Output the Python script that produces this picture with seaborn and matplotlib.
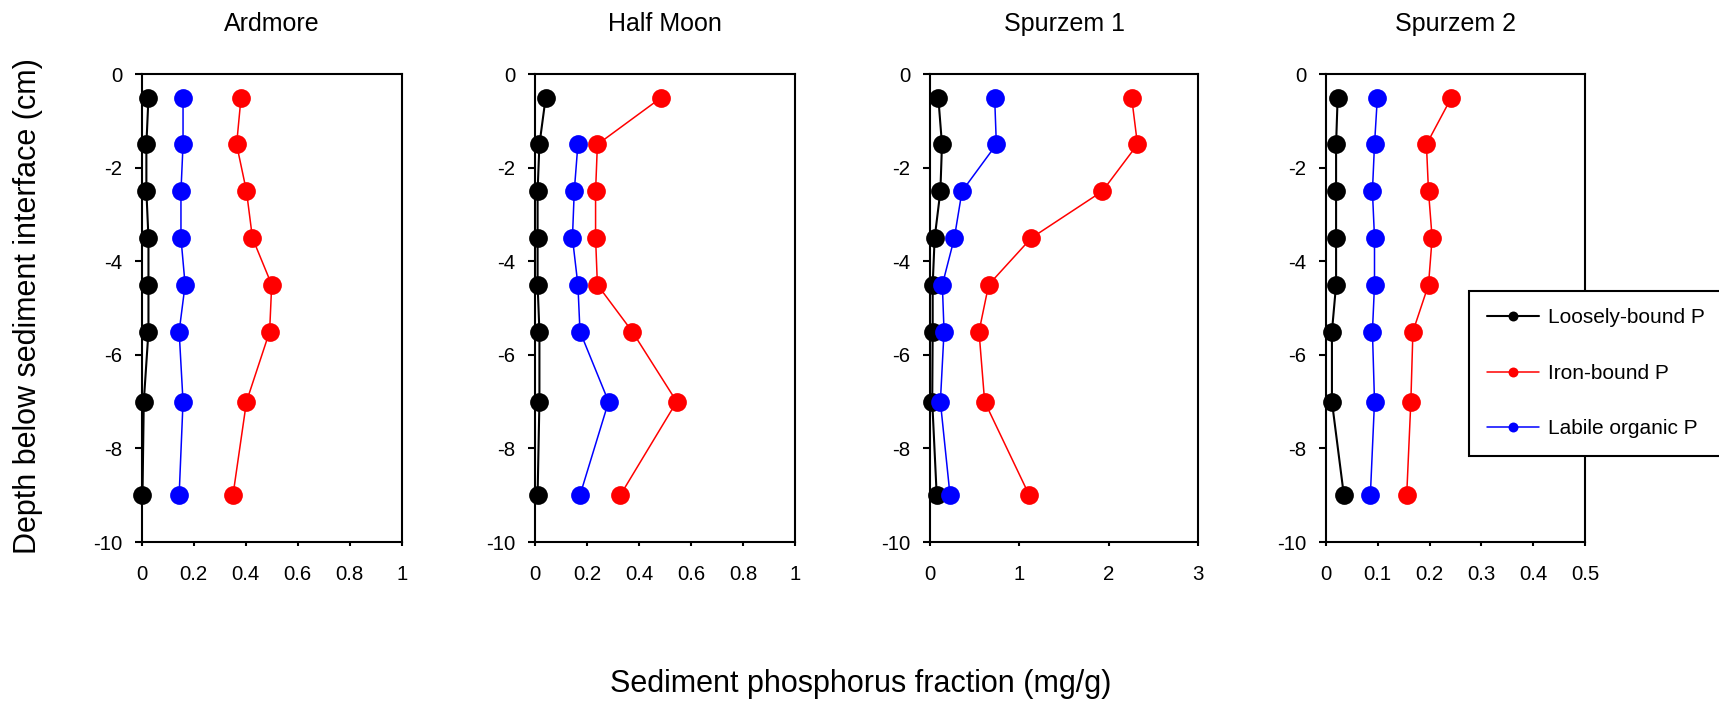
import numpy as np
import pandas as pd
import matplotlib
matplotlib.use("Agg")
import matplotlib.pyplot as plt
import seaborn as sns

# Sampling depths (cm below the sediment-water interface)
depth = [-0.5, -1.5, -2.5, -3.5, -4.5, -5.5, -7.0, -9.0]

sites = ["Ardmore", "Half Moon", "Spurzem 1", "Spurzem 2"]
fractions = ["Loosely-bound P", "Iron-bound P", "Labile organic P"]
colors = ["#000000", "#ff0000", "#0000ff"]
line_widths = [1.5, 1.1, 1.1]

# Phosphorus fractions (mg/g) per site
ardmore_loose = [0.026, 0.018, 0.018, 0.026, 0.026, 0.026, 0.008, 0.003]
ardmore_iron = [0.382, 0.365, 0.403, 0.426, 0.500, 0.492, 0.403, 0.351]
ardmore_labile = [0.159, 0.159, 0.151, 0.151, 0.167, 0.144, 0.159, 0.144]

halfmoon_loose = [0.041, 0.017, 0.010, 0.010, 0.010, 0.017, 0.017, 0.010]
halfmoon_iron = [0.485, 0.240, 0.233, 0.233, 0.240, 0.374, 0.545, 0.328]
halfmoon_labile = [np.nan, 0.165, 0.151, 0.144, 0.165, 0.173, 0.283, 0.173]

spurzem1_loose = [0.093, 0.134, 0.116, 0.052, 0.030, 0.030, 0.025, 0.075]
spurzem1_iron = [2.255, 2.320, 1.927, 1.133, 0.656, 0.548, 0.611, 1.110]
spurzem1_labile = [0.723, 0.742, 0.358, 0.272, 0.138, 0.157, 0.116, 0.224]

spurzem2_loose = [0.023, 0.020, 0.020, 0.020, 0.020, 0.012, 0.012, 0.035]
spurzem2_iron = [0.242, 0.194, 0.198, 0.205, 0.198, 0.168, 0.164, 0.156]
spurzem2_labile = [0.0995, 0.094, 0.090, 0.094, 0.094, 0.090, 0.094, 0.086]

site_values = {
    "Ardmore": [ardmore_loose, ardmore_iron, ardmore_labile],
    "Half Moon": [halfmoon_loose, halfmoon_iron, halfmoon_labile],
    "Spurzem 1": [spurzem1_loose, spurzem1_iron, spurzem1_labile],
    "Spurzem 2": [spurzem2_loose, spurzem2_iron, spurzem2_labile],
}

x_ticks = {
    "Ardmore": [0, 0.2, 0.4, 0.6, 0.8, 1],
    "Half Moon": [0, 0.2, 0.4, 0.6, 0.8, 1],
    "Spurzem 1": [0, 1, 2, 3],
    "Spurzem 2": [0, 0.1, 0.2, 0.3, 0.4, 0.5],
}
y_ticks = [0, -2, -4, -6, -8, -10]

sns.set_theme(style="white")
plt.rcParams["font.family"] = ["Liberation Sans", "DejaVu Sans"]
plt.rcParams["axes.unicode_minus"] = False
plt.rcParams["text.color"] = "black"
plt.rcParams["axes.labelcolor"] = "black"
plt.rcParams["xtick.color"] = "black"
plt.rcParams["ytick.color"] = "black"

W, H = 1719, 709
fig = plt.figure(figsize=(W / 100, H / 100), dpi=100)

# panel extents in pixels: (left, right)
panel_px = [(141.7, 401.7), (535.0, 795.0), (930.0, 1198.3), (1325.7, 1585.3)]
top_px, bottom_px = 74.3, 542.0

axes = []
for site, (l, r) in zip(sites, panel_px):
    ax = fig.add_axes([l / W, 1 - bottom_px / H, (r - l) / W, (bottom_px - top_px) / H])
    rows = []
    for frac, vals in zip(fractions, site_values[site]):
        for d, v in zip(depth, vals):
            rows.append({"depth": d, "value": v, "fraction": frac})
    df = pd.DataFrame(rows)
    sns.lineplot(
        data=df, x="value", y="depth", hue="fraction",
        hue_order=fractions, palette=colors,
        sort=False, estimator=None, marker="o", markersize=13.5,
        markeredgewidth=0, linewidth=1.3, legend=False, ax=ax, clip_on=False,
    )
    for line, lw in zip(ax.get_lines(), line_widths):
        line.set_linewidth(lw)
    ticks = x_ticks[site]
    ax.set_xlim(ticks[0], ticks[-1])
    ax.set_ylim(-10, 0)
    ax.set_xticks(ticks)
    ax.set_xticklabels([f"{t:g}" for t in ticks])
    ax.set_yticks(y_ticks)
    ax.set_yticklabels([f"{t:g}" for t in y_ticks])
    ax.set_xlabel("")
    ax.set_ylabel("")
    ax.set_title(site, fontsize=18, pad=31, color="black")
    for sp in ax.spines.values():
        sp.set_visible(True)
        sp.set_color("black")
        sp.set_linewidth(1.5)
    ax.tick_params(axis="x", direction="out", length=3, width=1.5, pad=13.5,
                   labelsize=14.7, colors="black", bottom=True, top=False)
    ax.tick_params(axis="y", direction="out", length=5, width=1.5, pad=9,
                   labelsize=14.7, colors="black", left=True, right=False)
    axes.append(ax)

fig.text(861 / W, 1 - 692 / H, "Sediment phosphorus fraction (mg/g)",
         ha="center", va="baseline", fontsize=22, color="black")
fig.text(28 / W, 1 - 306 / H, "Depth below sediment interface (cm)",
         ha="center", va="center", rotation=90, fontsize=22, color="black")

handles = axes[-1].get_lines()[:3]
leg = axes[-1].legend(
    handles, fractions, loc="upper left",
    bbox_to_anchor=(1469 / W, 1 - 290.7 / H), bbox_transform=fig.transFigure,
    borderaxespad=0, fontsize=15, markerscale=0.53, handlelength=2.5,
    handletextpad=0.45, labelspacing=1.75, borderpad=0.85,
    fancybox=False, framealpha=1, edgecolor="black",
)
leg.get_frame().set_linewidth(1.5)
for txt in leg.get_texts():
    txt.set_color("black")

fig.savefig("out.png", dpi=100, facecolor="white")
